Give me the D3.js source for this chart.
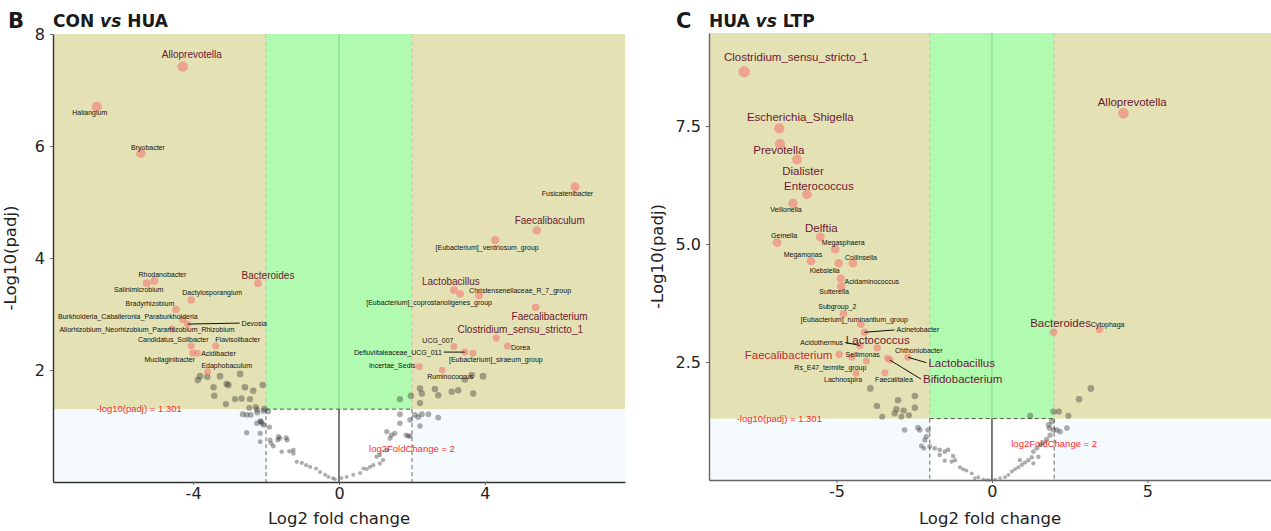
<!DOCTYPE html>
<html>
<head>
<meta charset="utf-8">
<script src="https://cdn.jsdelivr.net/npm/d3@7"></script>
<style>
  html, body { margin: 0; padding: 0; background: #ffffff; }
  svg { display: block; }
</style>
</head>
<body>
<svg id="chart" width="1271" height="531"></svg>
<script>
// ---------------- thresholds ----------------
const padjCut = 1.301;   // -log10(0.05)
const fcCut = 2;

// ---------------- Panel B: CON vs HUA ----------------
const conHuaGenera = [
  "Alloprevotella", "Haliangium", "Bryobacter", "Rhodanobacter", "Salinimicrobium",
  "Bacteroides", "Dactylosporangium", "Bradyrhizobium",
  "Burkholderia_Caballeronia_Paraburkholderia", "Devosia",
  "Allorhizobium_Neorhizobium_Pararhizobium_Rhizobium", "Candidatus_Solibacter",
  "Flavisolibacter", "Mucilaginibacter", "Acidibacter", "Edaphobaculum",
  "Fusicatenibacter", "Faecalibaculum", "[Eubacterium]_ventriosum_group", "Lactobacillus",
  "[Eubacterium]_coprostanoligenes_group", "Christensenellaceae_R_7_group", "Faecalibacterium",
  "Clostridium_sensu_stricto_1", "Dorea", "UCG_007", "Defluviitaleaceae_UCG_011",
  "[Eubacterium]_siraeum_group", "Incertae_Sedis", "Ruminococcus"
];
const conHuaLog2FC = [
  -4.28, -6.64, -5.43, -5.06, -5.27,
  -2.22, -4.05, -4.47,
  -4.28, -4.15,
  -4.58, -4.05,
  -3.38, -4.01, -3.88, -3.60,
  6.47, 5.42, 4.28, 3.15,
  3.32, 3.84, 5.39,
  4.31, 4.62, 3.15, 3.45,
  3.67, 2.20, 2.83
];
const conHuaNegLogPadj = [
  7.42, 6.70, 5.87, 3.59, 3.55,
  3.55, 3.25, 3.08,
  2.90, 2.82,
  2.73, 2.43,
  2.43, 2.30, 2.30, 1.97,
  5.27, 4.49, 4.32, 3.43,
  3.36, 3.33, 3.12,
  2.57, 2.43, 2.42, 2.32,
  2.30, 2.06, 2.00
];
const conHuaHighlighted = [
  "Alloprevotella", "Bacteroides", "Faecalibaculum", "Lactobacillus",
  "Faecalibacterium", "Clostridium_sensu_stricto_1"
];
// genera that did not pass both cut-offs
const conHuaOtherLog2FC = [
  -3.87, -3.81, -3.61, -3.44, -3.26, -3.08, -3.03, -2.71, -2.58, -2.35, -2.09, -3.42, -3.10,
  -2.85, -2.67, -2.44, -2.28, -2.46, -2.05,
  -2.64, -2.53, -2.42, -2.25, -2.07, -1.94, -2.53, -2.16, -2.14, -2.07, -1.91, -1.86, -1.80,
  -1.68, -1.62, -1.45, -1.42, -1.57, -1.36, -1.25, -1.16, -1.02, -0.90, -0.79, -0.63, -0.52,
  -0.38, -0.29, -0.17, -0.11, -2.24, -2.16, -2.11, -2.25, -2.16, -1.89, -1.66, -1.25,
  0.07, 0.21, 0.39, 0.58, 0.67, 0.76, 0.85, 0.94, 1.03, 1.12, 1.21, 1.31, 1.40, 1.44, 1.53,
  1.67, 1.67, 1.84, 1.90, 1.95, 1.95, 2.08, 2.17, 2.27, 2.45, 2.72, 2.22, 1.12, 1.31,
  1.67, 2.22, 2.22, 2.27, 2.63, 2.72, 3.09, 3.27, 3.68, 3.64, 3.95, 3.45, 1.97
];
const conHuaOtherNegLogPadj = [
  1.82, 1.89, 1.88, 1.69, 1.89, 1.75, 1.73, 1.93, 1.69, 1.63, 1.73, 1.54, 1.39,
  1.48, 1.49, 1.48, 1.34, 1.32, 1.31,
  1.21, 1.20, 1.20, 1.29, 1.27, 1.26, 0.88, 0.72, 1.08, 1.02, 0.98, 0.69, 0.64,
  0.75, 0.78, 0.79, 0.75, 0.54, 0.55, 0.51, 0.36, 0.34, 0.30, 0.27, 0.24, 0.18,
  0.13, 0.09, 0.07, 0.05, 1.24, 1.09, 1.05, 1.05, 0.87, 0.75, 0.81, 0.57,
  0.07, 0.09, 0.13, 0.16, 0.24, 0.23, 0.27, 0.30, 0.45, 0.33, 0.39, 0.90, 0.78, 0.84, 0.87,
  1.05, 1.21, 0.84, 0.82, 0.82, 1.11, 1.20, 1.16, 1.21, 1.21, 1.15, 1.00, 0.48, 0.57,
  1.48, 1.67, 1.41, 1.58, 1.66, 1.55, 1.61, 1.64, 1.58, 1.91, 1.89, 1.83, 1.54
];

// ---------------- Panel C: HUA vs LTP ----------------
const huaLtpGenera = [
  "Clostridium_sensu_stricto_1", "Escherichia_Shigella", "Prevotella", "Dialister",
  "Enterococcus", "Veillonella", "Delftia", "Gemella", "Megasphaera", "Megamonas",
  "Collinsella", "Klebsiella", "Acidaminococcus", "Sutterella", "Subgroup_2",
  "[Eubacterium]_ruminantium_group", "Acinetobacter", "Lactococcus", "Acidothermus",
  "Faecalibacterium", "Sellimonas", "Rs_E47_termite_group", "Chthoniobacter",
  "Bifidobacterium", "Lactobacillus", "Lachnospira", "Faecalitalea",
  "Bacteroides", "Cytophaga", "Alloprevotella"
];
const huaLtpLog2FC = [
  -7.97, -6.84, -6.82, -6.27,
  -5.95, -6.40, -5.52, -6.91, -5.04, -5.82,
  -4.47, -4.93, -4.86, -4.85, -4.78,
  -4.22, -4.10, -3.69, -4.24,
  -4.91, -4.51, -4.04, -3.35,
  -3.28, -2.70, -4.37, -3.44,
  1.98, 3.46, 4.23
];
const huaLtpNegLogPadj = [
  8.65, 7.45, 7.12, 6.79,
  6.05, 5.86, 5.15, 5.03, 4.89, 4.64,
  4.59, 4.59, 4.27, 4.10, 3.52,
  3.30, 3.13, 2.80, 2.85,
  2.66, 2.60, 2.52, 2.58,
  2.54, 2.60, 2.26, 2.27,
  3.13, 3.19, 7.77
];
const huaLtpHighlighted = [
  "Clostridium_sensu_stricto_1", "Escherichia_Shigella", "Prevotella", "Dialister",
  "Enterococcus", "Delftia", "Lactococcus", "Faecalibacterium", "Lactobacillus",
  "Bifidobacterium", "Bacteroides", "Alloprevotella"
];
const huaLtpOtherLog2FC = [
  -3.91, -3.02, -2.48, -3.70, -3.07, -2.84, -2.48, -3.53, -2.91, -3.13, -2.67,
  3.18, 2.80, 1.98, 2.15, 2.46, 1.23,
  -2.81, -2.38, -2.32, -2.05, -2.11, -2.16, -2.27, -2.19, -2.00, -1.84, -1.68, -1.52, -1.41,
  -1.68, -1.52, -1.25, -1.30, -1.19, -1.03, -0.93, -0.82, -0.65, -0.55, -0.44, -0.28, -0.17, -0.09,
  0.10, 0.26, 0.42, 0.53, 0.64, 0.74, 0.85, 0.96, 1.06, 1.17, 1.28, 1.33, 1.44, 1.55, 1.65,
  1.76, 1.87, 1.85, 1.98, 2.09, 2.19, 2.41, 1.93, 1.82, 1.49, 0.90, 1.33
];
const huaLtpOtherNegLogPadj = [
  1.94, 1.69, 1.78, 1.57, 1.50, 1.47, 1.53, 1.34, 1.34, 1.41, 1.37,
  1.94, 1.71, 1.45, 1.45, 1.36, 1.36,
  1.06, 1.11, 1.06, 1.06, 0.92, 0.85, 0.72, 0.67, 0.71, 0.67, 0.64, 0.60, 0.64,
  0.53, 0.41, 0.51, 0.39, 0.42, 0.27, 0.23, 0.20, 0.14, 0.04, 0.06, 0.01, 0.00, 0.00,
  0.01, 0.04, 0.06, 0.11, 0.18, 0.23, 0.27, 0.32, 0.37, 0.42, 0.48, 0.60, 0.67, 0.74, 0.79,
  0.86, 0.95, 1.10, 1.06, 1.06, 1.02, 1.10, 1.24, 1.17, 0.49, 0.42, 0.35
];

// ---------------- label placement (pixel offsets from each point) ----------------
// [dx, dy] to the label centre; entries with an anchor/leader use the given text anchor
const conHuaLabelLayout = {
  "Alloprevotella": [9, -12], "Haliangium": [-7, 6], "Bryobacter": [7, -6],
  "Rhodanobacter": [8, -6], "Salinimicrobium": [-8, 6], "Bacteroides": [10, -8],
  "Dactylosporangium": [21, -7], "Bradyrhizobium": [-26, -6],
  "Burkholderia_Caballeronia_Paraburkholderia": [-55, -3],
  "Devosia": [54, -1, "start", true],
  "Allorhizobium_Neorhizobium_Pararhizobium_Rhizobium": [-25, 0],
  "Candidatus_Solibacter": [-18, -6], "Flavisolibacter": [22, -6],
  "Mucilaginibacter": [-23, 6], "Acidibacter": [21, 0], "Edaphobaculum": [19, -6],
  "Fusicatenibacter": [-7.5, 6.7], "Faecalibaculum": [13, -10],
  "[Eubacterium]_ventriosum_group": [-8, 7.7], "Lactobacillus": [-3, -8],
  "Christensenellaceae_R_7_group": [41, -5], "[Eubacterium]_coprostanoligenes_group": [-31, 8.3],
  "Faecalibacterium": [14, 9], "Clostridium_sensu_stricto_1": [24, -8.7],
  "Dorea": [13, 1.3], "UCG_007": [-16, -6],
  "Defluviitaleaceae_UCG_011": [-23, 0, "end", true],
  "[Eubacterium]_siraeum_group": [23, 6], "Incertae_Sedis": [-27, -1], "Ruminococcus": [8, 6.7]
};
const huaLtpLabelLayout = {
  "Clostridium_sensu_stricto_1": [52, -15], "Escherichia_Shigella": [21, -11.7],
  "Prevotella": [-1, 6], "Dialister": [6, 11], "Enterococcus": [12, -8.7],
  "Veillonella": [-7, 6], "Delftia": [1, -9], "Gemella": [7, -7], "Megasphaera": [8, -6.7],
  "Megamonas": [-8, -6], "Collinsella": [8, -6], "Klebsiella": [-14, 7],
  "Acidaminococcus": [31, 2.7], "Sutterella": [-7, 5], "Subgroup_2": [-6, -7.3],
  "[Eubacterium]_ruminantium_group": [-6.6, -5],
  "Acinetobacter": [32, -2.3, "start", true], "Lactococcus": [0.6, -7.7],
  "Acidothermus": [-17, -3, "end", true], "Faecalibacterium": [-50.7, 0.7],
  "Sellimonas": [11, -3], "Rs_E47_termite_group": [-36, 6], "Chthoniobacter": [31, -8],
  "Bifidobacterium": [33, 19, "start", true], "Lactobacillus": [20.4, 5.4, "start", true],
  "Lachnospira": [-13, 6.7], "Faecalitalea": [9, 7],
  "Bacteroides": [7, -9], "Cytophaga": [8, -5], "Alloprevotella": [8.7, -11]
};

// ---------------- drawing ----------------
const svg = d3.select("#chart");
const axisFont = "'DejaVu Sans', Verdana, sans-serif";
const labelFont = "'Liberation Sans', Arial, sans-serif";

function drawPanel(cfg) {
  const g = svg.append("g");
  const x = d3.scaleLinear().domain(cfg.xDomain).range(cfg.xRange);
  const y = d3.scaleLinear().domain(cfg.yDomain).range(cfg.yRange);
  const r = d3.scaleLinear().domain([0, 1.5, 9]).range([1.8, 3.2, 5.8]).clamp(true);
  const [x0, x1] = cfg.xRange;
  const [yb, yt] = cfg.yRange;
  const yc = y(padjCut), xl = x(-fcCut), xr = x(fcCut);

  // regions
  g.append("rect").attr("x", x0).attr("y", yc).attr("width", x1 - x0).attr("height", yb - yc).attr("fill", "#f5fbfd");
  g.append("rect").attr("x", xl).attr("y", yc).attr("width", xr - xl).attr("height", yb - yc).attr("fill", "#ffffff");
  g.append("rect").attr("x", x0).attr("y", yt).attr("width", x1 - x0).attr("height", yc - yt).attr("fill", "#e4e2b4");
  g.append("rect").attr("x", xl).attr("y", yt).attr("width", xr - xl).attr("height", yc - yt).attr("fill", "#b0fbb0");

  // guide lines
  g.append("line").attr("x1", x(0)).attr("x2", x(0)).attr("y1", yt).attr("y2", yc)
    .attr("stroke", "#86dc86").attr("stroke-width", 1.2);
  g.append("line").attr("x1", x(0)).attr("x2", x(0)).attr("y1", yc).attr("y2", yb)
    .attr("stroke", "#111").attr("stroke-width", 1.1);
  [-fcCut, fcCut].forEach(v => {
    g.append("line").attr("x1", x(v)).attr("x2", x(v)).attr("y1", yt).attr("y2", yc)
      .attr("stroke", "#c2c8a8").attr("stroke-width", 1).attr("stroke-dasharray", "4,3");
    g.append("line").attr("x1", x(v)).attr("x2", x(v)).attr("y1", yc).attr("y2", yb)
      .attr("stroke", "#666").attr("stroke-width", 1).attr("stroke-dasharray", "4,3");
  });
  g.append("line").attr("x1", xl).attr("x2", xr).attr("y1", yc).attr("y2", yc)
    .attr("stroke", "#555").attr("stroke-width", 1).attr("stroke-dasharray", "4,3");

  // cut-off annotations
  g.append("text").attr("x", x(cfg.padjLabelAt)).attr("y", yc).attr("dy", "0.35em")
    .attr("text-anchor", "middle").attr("font-family", labelFont).attr("font-size", 9.5)
    .attr("fill", "#ff2a2a").text("-log10(padj) = 1.301");
  g.append("text").attr("x", x(fcCut)).attr("y", y(cfg.fcLabelAt)).attr("dy", "0.35em")
    .attr("text-anchor", "middle").attr("font-family", labelFont).attr("font-size", 9.5)
    .attr("fill", "#ff2a2a").text("log2FoldChange = 2");

  // non-significant genera
  const others = cfg.otherFC.map((v, i) => ({ fc: v, p: cfg.otherP[i] }));
  g.append("g").selectAll("circle").data(others).join("circle")
    .attr("cx", d => x(d.fc)).attr("cy", d => y(d.p)).attr("r", d => r(d.p))
    .attr("fill", "#3c3c3c").attr("fill-opacity", 0.42);

  // significant genera
  const sig = cfg.genera.map((n, i) => ({ name: n, fc: cfg.fc[i], p: cfg.p[i] }));
  g.append("g").selectAll("circle").data(sig).join("circle")
    .attr("cx", d => x(d.fc)).attr("cy", d => y(d.p)).attr("r", d => r(d.p))
    .attr("fill", "#f07f74").attr("fill-opacity", 0.62);

  // leader lines and labels
  const lg = g.append("g");
  sig.forEach(d => {
    const lay = cfg.layout[d.name];
    if (!lay) return;
    const px = x(d.fc), py = y(d.p);
    const big = cfg.highlighted.includes(d.name);
    const anchor = lay[2] || "middle";
    const tx = px + lay[0], ty = py + lay[1];
    if (lay[3]) {
      const gap = anchor === "start" ? -2 : 2;
      lg.append("line").attr("x1", px).attr("y1", py).attr("x2", tx + gap).attr("y2", ty)
        .attr("stroke", "#111").attr("stroke-width", 1);
    }
    lg.append("text").attr("x", tx).attr("y", ty).attr("dy", "0.35em")
      .attr("text-anchor", anchor).attr("font-family", labelFont)
      .attr("font-size", big ? cfg.bigSize : 7)
      .attr("fill", big ? (cfg.redLabels.includes(d.name) ? "#cc1f2e" : "#6d1733") : "#111")
      .text(d.name);
  });

  // axes
  const yAxis = d3.axisLeft(y).tickValues(cfg.yTicks).tickFormat(cfg.yFormat)
    .tickSize(3).tickSizeOuter(0).tickPadding(5);
  const xAxis = d3.axisBottom(x).tickValues(cfg.xTicks).tickFormat(d3.format("d"))
    .tickSize(3).tickSizeOuter(0).tickPadding(3);
  const ya = g.append("g").attr("transform", `translate(${x0},0)`).call(yAxis);
  const xa = g.append("g").attr("transform", `translate(0,${yb})`).call(xAxis);
  [ya, xa].forEach(a => {
    a.select(".domain").attr("stroke", cfg.axisColor).attr("stroke-width", 1.4);
    a.selectAll(".tick line").attr("stroke", "#666");
    a.selectAll(".tick text").attr("font-family", axisFont).attr("font-size", 16).attr("fill", "#222");
  });
  xa.selectAll(".tick text").text(d => d3.format("d")(d).replace("−", "-"));

  // axis titles
  g.append("text").attr("x", (x0 + Math.min(x1, 1271)) / 2).attr("y", 524)
    .attr("text-anchor", "middle").attr("font-family", axisFont).attr("font-size", 16.5)
    .attr("fill", "#222").text("Log2 fold change");
  g.append("text").attr("transform", `translate(${cfg.yTitleX},${(yt + yb) / 2}) rotate(-90)`)
    .attr("text-anchor", "middle").attr("font-family", axisFont).attr("font-size", 16.5)
    .attr("fill", "#222").text("-Log10(padj)");

  // panel letter and comparison title
  g.append("text").attr("x", cfg.letterX).attr("y", 28).attr("font-family", axisFont)
    .attr("font-weight", "bold").attr("font-size", 21).attr("fill", "#1a1a1a").text(cfg.letter);
  const t = g.append("text").attr("x", x0).attr("y", 27).attr("font-family", axisFont)
    .attr("font-weight", "bold").attr("font-size", 17).attr("fill", "#1a1a1a");
  t.append("tspan").text(cfg.title[0] + " ");
  t.append("tspan").attr("font-style", "italic").text("vs");
  t.append("tspan").text(" " + cfg.title[1]);
}

drawPanel({
  letter: "B", letterX: 8, title: ["CON", "HUA"],
  xDomain: [-7.84, 7.84], xRange: [53, 625],
  yDomain: [0, 8], yRange: [482, 34],
  xTicks: [-4, 0, 4], yTicks: [2, 4, 6, 8], yFormat: d3.format("d"),
  genera: conHuaGenera, fc: conHuaLog2FC, p: conHuaNegLogPadj,
  otherFC: conHuaOtherLog2FC, otherP: conHuaOtherNegLogPadj,
  highlighted: conHuaHighlighted, redLabels: [], layout: conHuaLabelLayout,
  bigSize: 10, padjLabelAt: -5.48, fcLabelAt: 0.6,
  yTitleX: 16, axisColor: "#333"
});

drawPanel({
  letter: "C", letterX: 676, title: ["HUA", "LTP"],
  xDomain: [-9.1, 9.07], xRange: [709, 1274],
  yDomain: [0, 9.47], yRange: [480, 33],
  xTicks: [-5, 0, 5], yTicks: [2.5, 5.0, 7.5], yFormat: d3.format(".1f"),
  genera: huaLtpGenera, fc: huaLtpLog2FC, p: huaLtpNegLogPadj,
  otherFC: huaLtpOtherLog2FC, otherP: huaLtpOtherNegLogPadj,
  highlighted: huaLtpHighlighted, redLabels: ["Faecalibacterium"], layout: huaLtpLabelLayout,
  bigSize: 11.5, padjLabelAt: -6.84, fcLabelAt: 0.76,
  yTitleX: 663, axisColor: "#666"
});
</script>
</body>
</html>
